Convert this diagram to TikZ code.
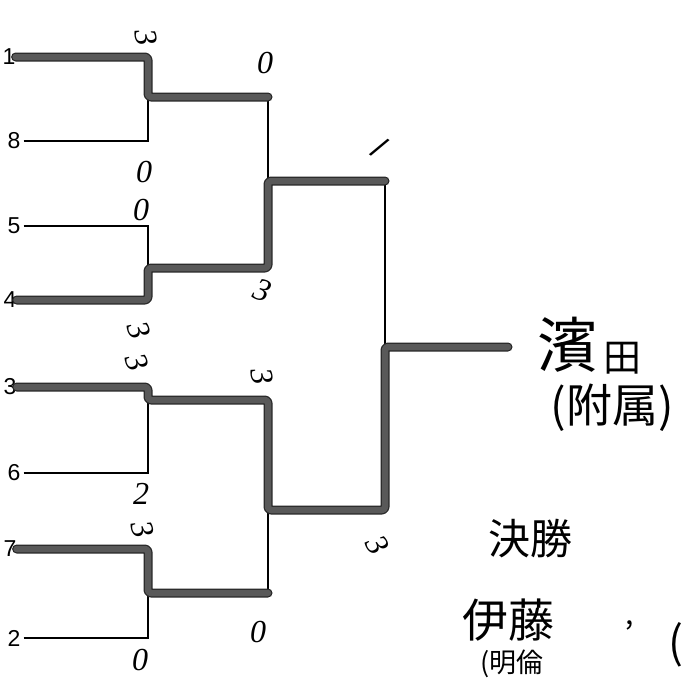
\documentclass[tikz,border=0pt]{standalone}
\usepackage{fontspec}
\setmainfont{Liberation Sans}
\newfontfamily\jpfont{Noto Sans CJK JP}
\newfontfamily\handfont{Liberation Serif}
\begin{document}
\begin{tikzpicture}[x=1pt,y=-1pt,
  thin/.style={draw=black,line width=1.4pt},
  win/.style={draw=black!65,line width=6.5pt,rounded corners=3pt,line cap=round,line join=round,
    preaction={draw=black!85,line width=9pt,rounded corners=3pt,line cap=round,line join=round}},
  seed/.style={font=\fontsize{23}{23}\selectfont,inner sep=0pt},
  score/.style={font=\handfont\itshape\fontsize{32}{32}\selectfont,inner sep=0pt},
  jp/.style={font=\jpfont\fontsize{40}{40}\selectfont,inner sep=0pt}]
\useasboundingbox (0,0) rectangle (698,680);
% seed labels
\node[seed] (s1) at (9,57) {1};
\node[seed] (s8) at (14,141) {8};
\node[seed] (s5) at (14,226) {5};
\node[seed] (s4) at (10,300) {4};
\node[seed] (s3) at (10,387) {3};
\node[seed] (s6) at (14,473) {6};
\node[seed] (s7) at (10,549) {7};
\node[seed] (s2) at (14,638) {2};
% bracket coordinates
\coordinate (a1) at (148,57);
\coordinate (a8) at (148,141);
\coordinate (m1) at (148,97);
\coordinate (a5) at (148,226);
\coordinate (a4) at (148,300);
\coordinate (m2) at (148,268);
\coordinate (a3) at (148,387);
\coordinate (a6) at (148,473);
\coordinate (m3) at (148,400);
\coordinate (a7) at (148,549);
\coordinate (a2) at (148,638);
\coordinate (m4) at (148,593);
\coordinate (r1) at (268,97);
\coordinate (r2) at (268,268);
\coordinate (q1) at (268,181);
\coordinate (r3) at (268,400);
\coordinate (r4) at (268,593);
\coordinate (q2) at (268,510);
\coordinate (f1) at (385,181);
\coordinate (f2) at (385,510);
\coordinate (fm) at (385,347);
\coordinate (champ) at (508,347);
% thin losing lines
\draw[thin] (s8.east)++(3,0) -- (a8) -- (m1);
\draw[thin] (s5.east)++(3,0) -- (a5) -- (m2);
\draw[thin] (s6.east)++(3,0) -- (a6) -- (m3);
\draw[thin] (s2.east)++(3,0) -- (a2) -- (m4);
\draw[thin] (r1) -- (q1);
\draw[thin] (r4) -- (q2);
\draw[thin] (f1) -- (fm);
% winning paths
\draw[win] (s1.east) -- (a1) -- (m1) -- (r1);
\draw[win] (s4.east) -- (a4) -- (m2) -- (r2) -- (q1) -- (f1);
\draw[win] (s3.east) -- (a3) -- (m3) -- (r3) -- (q2) -- (f2) -- (fm) -- (champ);
\draw[win] (s7.east) -- (a7) -- (m4) -- (r4);
% scores
\node[score,rotate=-80] (c1) at (146,38) {3};
\node[score] (c8) at (144,172) {0};
\node[score] (c5) at (141,210) {0};
\node[score,rotate=-70] (c4) at (139,330) {3};
\node[score,rotate=-70] (c3) at (137,362) {3};
\node[score] (c6) at (141,494) {2};
\node[score,rotate=-75] (c7) at (143,530) {3};
\node[score] (c2) at (140,660) {0};
\node[score] (d1) at (265,63) {0};
\node[score,rotate=-20] (d4) at (263,290) {3};
\node[score,rotate=-80] (d3) at (262,377) {3};
\node[score] (d7) at (258,632) {0};
\node[font=\fontsize{32}{32}\selectfont,inner sep=0pt,rotate=-35] (e1) at (380,148) {/};
\node[score,rotate=-60] (e3) at (378,545) {3};
% text
\node[jp,font=\jpfont\fontsize{60}{60}\selectfont] (hama) at (567,345) {濱};
\node[jp,font=\jpfont\fontsize{38}{38}\selectfont] (ta) at (622,358) {田};
\node[jp,font=\jpfont\fontsize{46}{46}\selectfont] (fuzoku) at (612,408) {(附属)};
\node[jp,font=\jpfont\fontsize{42}{42}\selectfont] (kessho) at (530,539) {決勝};
\node[jp,font=\jpfont\fontsize{46}{46}\selectfont] (ito) at (508,620) {伊藤};
\node[jp,font=\jpfont\fontsize{30}{30}\selectfont] (comma) at (630,625) {,};
\node[jp,font=\jpfont\fontsize{27}{27}\selectfont] (meirin) at (512,664) {(明倫};
\node[jp,font=\jpfont\fontsize{44}{44}\selectfont] (paren) at (676,645) {(};
\end{tikzpicture}
\end{document}
